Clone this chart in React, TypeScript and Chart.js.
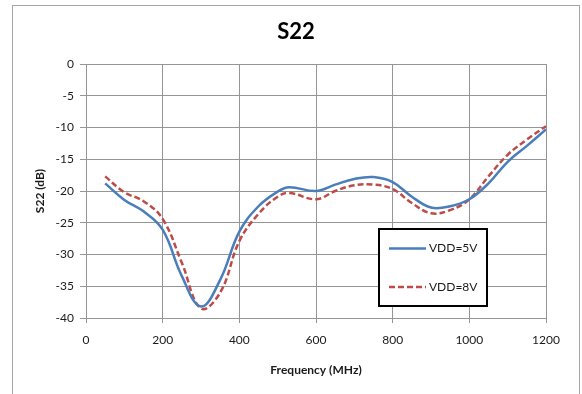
import React, { useEffect, useRef } from 'react';
import { Chart, registerables } from 'chart.js';

Chart.register(...registerables);

const chartTitle = 'S22';
const xAxisTitle = 'Frequency (MHz)';
const yAxisTitle = 'S22 (dB)';
const seriesNames = ['VDD=5V', 'VDD=8V'];

const freqMHz = [50, 100, 150, 200, 250, 300, 350, 400, 450, 500, 530, 600, 650, 700, 750, 800, 850, 900, 950, 1000, 1050, 1100, 1150, 1200];
const s22Vdd5 = [-18.8, -21.4, -23.2, -26.1, -33.4, -38.2, -34.0, -26.4, -22.4, -20.1, -19.4, -20.0, -19.0, -18.1, -17.8, -18.6, -20.9, -22.6, -22.4, -21.3, -18.8, -15.4, -12.9, -10.3];
const s22Vdd8 = [-17.7, -20.2, -21.6, -24.4, -31.3, -38.5, -36.0, -27.9, -23.6, -20.9, -20.3, -21.3, -20.0, -19.1, -19.0, -19.7, -21.9, -23.5, -23.0, -21.3, -17.7, -14.3, -11.9, -9.8];

const xMin = 0;
const xMax = 1200;
const xStep = 200;
const yMin = -40;
const yMax = 0;
const yStep = 5;

const BLUE = '#4a7ebb';
const RED = '#be4b48';
const GRID = '#959595';
const FONT = 'Lato, "Noto Sans", sans-serif';

const decorPlugin = {
  id: 'decor',
  beforeDraw(chart: any) {
    const ctx = chart.ctx;
    ctx.save();
    ctx.fillStyle = '#ffffff';
    ctx.fillRect(0, 0, chart.width, chart.height);
    ctx.strokeStyle = '#a6a6a6';
    ctx.lineWidth = 1;
    ctx.strokeRect(12.5, 5.5, 567, 420);
    ctx.fillStyle = '#000000';
    ctx.font = `bold 22px ${FONT}`;
    ctx.textAlign = 'center';
    ctx.textBaseline = 'middle';
    ctx.fillText(chartTitle, 296, 32);
    ctx.restore();
  },
  afterDatasetsDraw(chart: any) {
    const ctx = chart.ctx;
    ctx.save();
    const bx = 379, by = 229, bw = 108, bh = 77;
    ctx.fillStyle = '#ffffff';
    ctx.fillRect(bx, by, bw, bh);
    ctx.strokeStyle = '#000000';
    ctx.lineWidth = 2;
    ctx.strokeRect(bx, by, bw, bh);
    const rows = [
      { y: 248.5, color: BLUE, dash: [] as number[] },
      { y: 287, color: RED, dash: [6, 3] },
    ];
    rows.forEach((r, i) => {
      ctx.beginPath();
      ctx.setLineDash(r.dash);
      ctx.strokeStyle = r.color;
      ctx.lineWidth = 2.5;
      ctx.moveTo(389, r.y);
      ctx.lineTo(426, r.y);
      ctx.stroke();
      ctx.setLineDash([]);
      ctx.fillStyle = '#1a1a1a';
      ctx.font = `12px ${FONT}`;
      ctx.textAlign = 'left';
      ctx.textBaseline = 'middle';
      ctx.fillText(seriesNames[i], 429, r.y);
    });
    ctx.restore();
  },
};

export default function App() {
  const ref = useRef<HTMLCanvasElement | null>(null);

  useEffect(() => {
    if (!ref.current) return;
    const chart = new Chart(ref.current, {
      type: 'line',
      data: {
        datasets: [
          {
            label: seriesNames[0],
            data: freqMHz.map((f, i) => ({ x: f, y: s22Vdd5[i] })),
            borderColor: BLUE,
            borderWidth: 2.5,
            pointRadius: 0,
            tension: 0.4,
            fill: false,
          },
          {
            label: seriesNames[1],
            data: freqMHz.map((f, i) => ({ x: f, y: s22Vdd8[i] })),
            borderColor: RED,
            borderWidth: 2.5,
            borderDash: [6, 3],
            pointRadius: 0,
            tension: 0.4,
            fill: false,
          },
        ],
      },
      options: {
        animation: false,
        responsive: false,
        maintainAspectRatio: false,
        layout: { padding: { left: 28, right: 36, top: 64, bottom: 10 } },
        plugins: {
          legend: { display: false },
          tooltip: { enabled: false },
          title: { display: false },
        },
        scales: {
          x: {
            type: 'linear',
            min: xMin,
            max: xMax,
            afterFit: (s: any) => { s.height = 66; },
            ticks: { stepSize: xStep, padding: 10, color: '#1a1a1a', font: { family: FONT, size: 12 }, maxRotation: 0, callback: (v: any) => String(v) },
            grid: { color: GRID, lineWidth: 1, tickLength: 5 },
            border: { color: GRID, width: 1 },
            title: { display: true, text: xAxisTitle, color: '#1a1a1a', font: { family: FONT, size: 12, weight: 'bold' }, padding: { top: 4, bottom: 7 } },
          },
          y: {
            type: 'linear',
            min: yMin,
            max: yMax,
            afterFit: (s: any) => { s.width = 58; },
            ticks: { stepSize: yStep, padding: 6, color: '#1a1a1a', font: { family: FONT, size: 12 }, callback: (v: any) => String(v) },
            grid: { color: GRID, lineWidth: 1, tickLength: 6 },
            border: { color: GRID, width: 1 },
            title: { display: true, text: yAxisTitle, color: '#1a1a1a', font: { family: FONT, size: 12, weight: 'bold' }, padding: { top: 5, bottom: 4 } },
          },
        },
      },
      plugins: [decorPlugin],
    } as any);
    return () => chart.destroy();
  }, []);

  return (
    <div style={{ position: 'fixed', left: 0, top: 0, width: 582, height: 394 }}>
      <canvas ref={ref} width={582} height={394} style={{ width: 582, height: 394, display: 'block' }} />
    </div>
  );
}
